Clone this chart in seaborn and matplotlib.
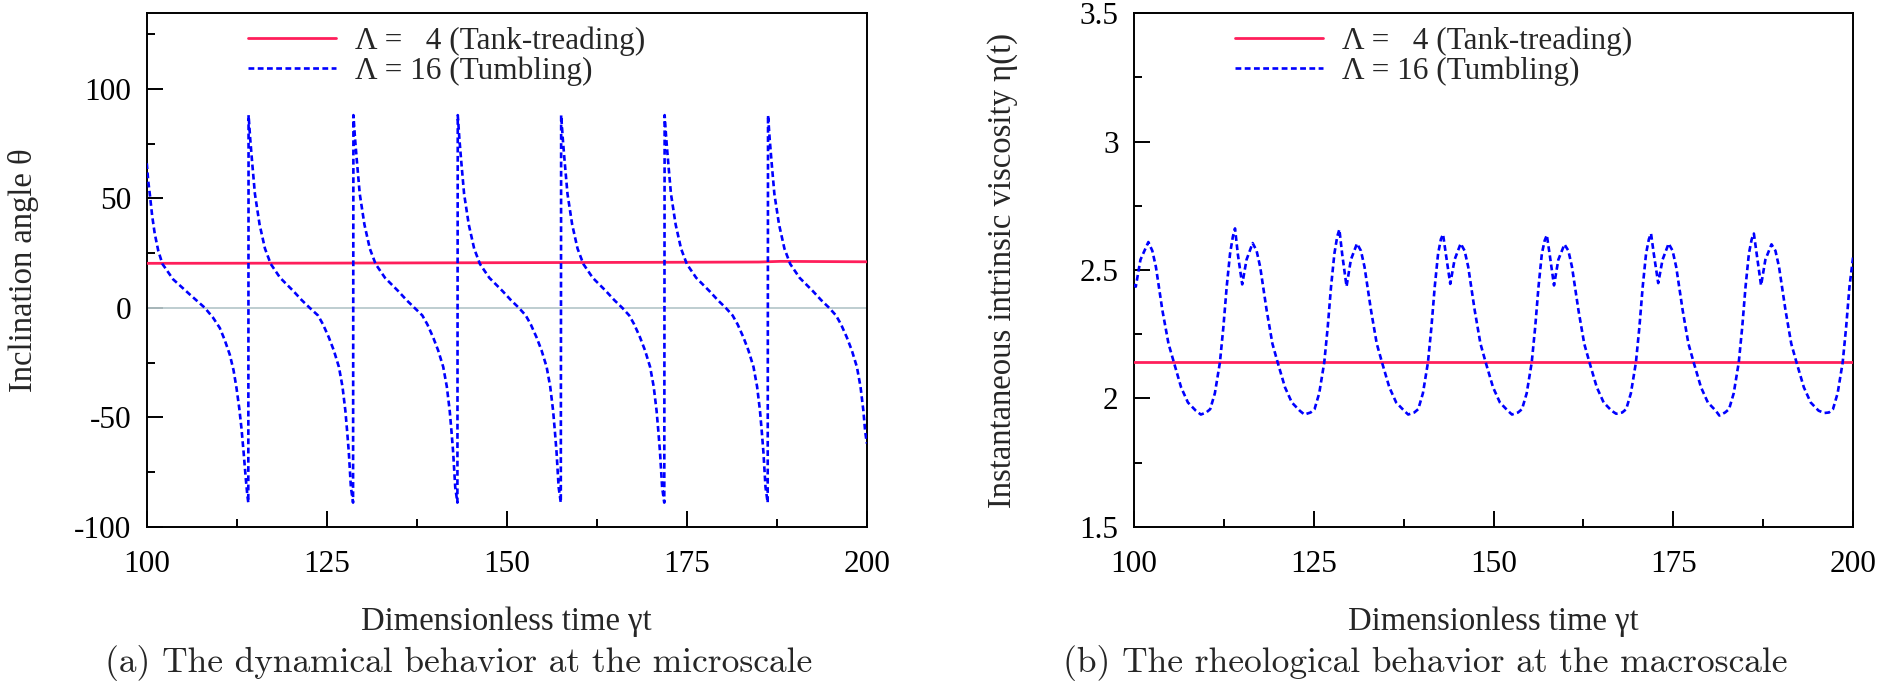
import matplotlib
matplotlib.use('Agg')
import matplotlib.pyplot as plt
import seaborn as sns
import pandas as pd
from matplotlib.ticker import MultipleLocator

# ---------------- data ----------------
legend_labels = ["\u039b = \u20074 (Tank-treading)", "\u039b = 16 (Tumbling)"]

# (a) inclination angle, tank-treading (Lambda = 4)
tt_time = [100, 125, 150, 175, 185, 188, 200]
tt_theta = [20.3, 20.4, 20.6, 20.8, 20.9, 21.2, 21.0]

# (a) inclination angle, tumbling (Lambda = 16)
tu_time = [
    100.0, 100.2, 100.42, 100.75, 101.1, 101.6, 102.18, 103.66, 105.97, 108.06, 109.2, 110.14,
    110.8, 111.53, 112.05, 112.46, 112.85, 113.15, 113.45, 113.75, 113.95, 114.1,
    114.14, 114.37, 114.62, 115.02, 115.67, 116.42, 117.22, 118.52, 120.37, 121.52, 122.62,
    123.78, 124.48, 125.28, 125.98, 126.68, 127.18, 127.58, 127.83, 128.06, 128.2, 128.35, 128.65,
    128.7, 128.93, 129.18, 129.58, 130.23, 130.98, 131.78, 133.08, 134.93, 136.08, 137.18,
    138.27, 138.97, 139.77, 140.47, 141.17, 141.67, 142.07, 142.32, 142.55, 142.69, 142.84, 143.14,
    143.19, 143.42, 143.67, 144.07, 144.72, 145.47, 146.27, 147.57, 149.42, 150.57, 151.67,
    152.63, 153.33, 154.13, 154.83, 155.53, 156.03, 156.43, 156.68, 156.91, 157.05, 157.2, 157.5,
    157.55, 157.78, 158.03, 158.43, 159.08, 159.83, 160.63, 161.93, 163.78, 164.93, 166.03,
    167.0, 167.7, 168.5, 169.2, 169.9, 170.4, 170.8, 171.05, 171.28, 171.42, 171.57, 171.87,
    171.92, 172.15, 172.4, 172.8, 173.45, 174.2, 175.0, 176.3, 178.15, 179.3, 180.4,
    181.36, 182.06, 182.86, 183.56, 184.26, 184.76, 185.16, 185.41, 185.64, 185.78, 185.93, 186.23,
    186.28, 186.51, 186.76, 187.16, 187.81, 188.56, 189.36, 190.66, 192.51, 193.66, 194.76,
    195.72, 196.42, 197.22, 197.92, 198.62, 199.12, 199.52, 199.77, 200.0,
]
tu_theta = [
    66, 58, 52, 42, 34, 26, 20, 13, 6.1, 0, -4.5, -9.2,
    -14.5, -21.4, -28.5, -36.6, -46, -55, -66, -78, -85, -89,
    88, 77, 67, 52, 38, 27, 20, 13.7, 7.6, 3.5, 0,
    -3.5, -7.6, -13.5, -19.5, -27, -36, -47, -56.5, -66, -74, -82, -89,
    88, 77, 67, 52, 38, 27, 20, 13.7, 7.6, 3.5, 0,
    -3.5, -7.6, -13.5, -19.5, -27, -36, -47, -56.5, -66, -74, -82, -89,
    88, 77, 67, 52, 38, 27, 20, 13.7, 7.6, 3.5, 0,
    -3.5, -7.6, -13.5, -19.5, -27, -36, -47, -56.5, -66, -74, -82, -89,
    88, 77, 67, 52, 38, 27, 20, 13.7, 7.6, 3.5, 0,
    -3.5, -7.6, -13.5, -19.5, -27, -36, -47, -56.5, -66, -74, -82, -89,
    88, 77, 67, 52, 38, 27, 20, 13.7, 7.6, 3.5, 0,
    -3.5, -7.6, -13.5, -19.5, -27, -36, -47, -56.5, -66, -74, -82, -89,
    88, 77, 67, 52, 38, 27, 20, 13.7, 7.6, 3.5, 0,
    -3.5, -7.6, -13.5, -19.5, -27, -36, -47, -56.5, -62,
]

# (b) intrinsic viscosity, tank-treading
tt_visc_time = [100, 150, 200]
tt_visc = [2.142, 2.142, 2.142]

# (b) intrinsic viscosity, tumbling
tu_visc_time = [
    100.0, 100.25, 100.9, 102.0, 102.55, 103.05, 103.95, 104.8, 105.55, 106.55, 107.5, 108.6, 109.3,
    110.05, 110.6, 111.25, 111.95, 112.43, 112.89, 113.36, 113.75, 114.05, 114.45, 115.05, 115.65,
    116.5, 117.05, 117.55, 118.45, 119.25, 119.98, 121.0, 121.95, 123.05, 123.7,
    124.56, 125.11, 125.76, 126.46, 126.94, 127.4, 127.87, 128.26, 128.56, 128.96, 129.56, 130.16,
    131.01, 131.56, 132.06, 132.96, 133.76, 134.49, 135.51, 136.46, 137.56, 138.13,
    138.98, 139.53, 140.18, 140.88, 141.36, 141.82, 142.29, 142.68, 142.98, 143.38, 143.98, 144.58,
    145.43, 145.98, 146.48, 147.38, 148.18, 148.91, 149.93, 150.88, 151.98, 152.56,
    153.41, 153.96, 154.61, 155.31, 155.79, 156.25, 156.72, 157.11, 157.41, 157.81, 158.41, 159.01,
    159.86, 160.41, 160.91, 161.81, 162.61, 163.34, 164.36, 165.31, 166.41, 167.05,
    167.9, 168.45, 169.1, 169.8, 170.28, 170.74, 171.21, 171.6, 171.9, 172.3, 172.9, 173.5,
    174.35, 174.9, 175.4, 176.3, 177.1, 177.83, 178.85, 179.8, 180.9, 181.4,
    182.2, 182.75, 183.4, 184.1, 184.58, 185.04, 185.51, 185.9, 186.2, 186.6, 187.2, 187.8,
    188.65, 189.2, 189.7, 190.6, 191.4, 192.13, 193.15, 194.1, 195.2, 196.0,
    196.65, 197.2, 197.85, 198.55, 199.03, 199.49, 200.0,
]
tu_visc = [
    2.445, 2.435, 2.54, 2.609, 2.575, 2.512, 2.343, 2.213, 2.14, 2.043, 1.984, 1.952, 1.937,
    1.945, 1.958, 2.02, 2.14, 2.277, 2.434, 2.564, 2.63, 2.662, 2.56, 2.444, 2.54,
    2.605, 2.575, 2.512, 2.343, 2.213, 2.14, 2.043, 1.984, 1.952, 1.937,
    1.945, 1.958, 2.02, 2.14, 2.277, 2.434, 2.564, 2.63, 2.658, 2.56, 2.436, 2.54,
    2.603, 2.575, 2.512, 2.343, 2.213, 2.14, 2.043, 1.984, 1.952, 1.937,
    1.945, 1.958, 2.02, 2.14, 2.277, 2.434, 2.564, 2.62, 2.639, 2.56, 2.446, 2.54,
    2.603, 2.575, 2.512, 2.343, 2.213, 2.14, 2.043, 1.984, 1.952, 1.937,
    1.945, 1.958, 2.02, 2.14, 2.277, 2.434, 2.564, 2.615, 2.636, 2.56, 2.44, 2.54,
    2.6, 2.575, 2.512, 2.343, 2.213, 2.14, 2.043, 1.984, 1.952, 1.94,
    1.945, 1.958, 2.02, 2.14, 2.277, 2.434, 2.564, 2.62, 2.642, 2.56, 2.449, 2.54,
    2.603, 2.575, 2.512, 2.343, 2.213, 2.14, 2.043, 1.984, 1.952, 1.933,
    1.945, 1.958, 2.02, 2.14, 2.277, 2.434, 2.564, 2.62, 2.642, 2.56, 2.44, 2.54,
    2.6, 2.575, 2.512, 2.343, 2.213, 2.14, 2.043, 1.984, 1.952, 1.943,
    1.945, 1.958, 2.02, 2.14, 2.277, 2.434, 2.55,
]

x_label = "Dimensionless time \u03b3t"
y_label_a = "Inclination angle \u03b8"
y_label_b = "Instantaneous intrinsic viscosity \u03b7(t)"
caption_a = "(a) The dynamical behavior at the microscale"
caption_b = "(b) The rheological behavior at the macroscale"

# ---------------- style ----------------
sns.set_theme(style="ticks")
plt.rcParams['font.family'] = ['Liberation Serif', 'DejaVu Serif']
plt.rcParams['axes.unicode_minus'] = False
plt.rcParams['axes.edgecolor'] = 'black'
plt.rcParams['axes.linewidth'] = 1.4

RED = '#ff1f5b'
BLUE = '#0000ff'
DASH = (0, (2.2, 1.3))
FS_TICK = 22.5
FS_LAB = 23.5
FS_LEG = 22.5
FS_CAP = 25.5

fig = plt.figure(figsize=(18.84, 6.86), dpi=100)
ax1 = fig.add_axes([0.0779, 0.2322, 0.3822, 0.7484])
ax2 = fig.add_axes([0.6019, 0.2322, 0.3817, 0.7484])

df_tt = pd.DataFrame({'t': tt_time, 'v': tt_theta})
df_tu = pd.DataFrame({'t': tu_time, 'v': tu_theta})
df_ttv = pd.DataFrame({'t': tt_visc_time, 'v': tt_visc})
df_tuv = pd.DataFrame({'t': tu_visc_time, 'v': tu_visc})

ax1.axhline(0, color='#b9c9cd', lw=1.3, zorder=1)
sns.lineplot(data=df_tt, x='t', y='v', ax=ax1, color=RED, lw=2.0, sort=False,
             estimator=None, label=legend_labels[0], zorder=3)
sns.lineplot(data=df_tu, x='t', y='v', ax=ax1, color=BLUE, lw=1.9, linestyle=DASH,
             sort=False, estimator=None, label=legend_labels[1], zorder=4)

sns.lineplot(data=df_ttv, x='t', y='v', ax=ax2, color=RED, lw=2.0, sort=False,
             estimator=None, label=legend_labels[0], zorder=3)
sns.lineplot(data=df_tuv, x='t', y='v', ax=ax2, color=BLUE, lw=1.9, linestyle=DASH,
             sort=False, estimator=None, label=legend_labels[1], zorder=4)

ax1.set_xlim(100, 200)
ax1.set_ylim(-100, 134.5)
ax1.yaxis.set_major_locator(MultipleLocator(50))
ax1.yaxis.set_minor_locator(MultipleLocator(25))
ax2.set_xlim(100, 200)
ax2.set_ylim(1.5, 3.5)
ax2.yaxis.set_major_locator(MultipleLocator(0.5))
ax2.yaxis.set_minor_locator(MultipleLocator(0.25))
ax2.set_yticks([1.5, 2, 2.5, 3, 3.5])
ax2.set_yticklabels(['1.5', '2', '2.5', '3', '3.5'])

for ax, ylab, ylx in ((ax1, y_label_a, -0.150), (ax2, y_label_b, -0.161)):
    ax.xaxis.set_major_locator(MultipleLocator(25))
    ax.xaxis.set_minor_locator(MultipleLocator(12.5))
    ax.tick_params(which='both', direction='in', top=False, right=False,
                   width=1.4, colors='black', labelsize=FS_TICK)
    ax.tick_params(which='major', length=11.5)
    ax.tick_params(which='minor', length=5.8)
    ax.tick_params(axis='x', pad=17)
    ax.tick_params(axis='y', pad=11)
    ax.grid(False)
    for s in ax.spines.values():
        s.set_visible(True)
        s.set_linewidth(1.4)
        s.set_color('black')
    ax.set_xlabel(x_label, fontsize=FS_LAB)
    ax.xaxis.set_label_coords(0.5, -0.155)
    ax.set_ylabel(ylab, fontsize=FS_LAB)
    ax.yaxis.set_label_coords(ylx, 0.5)
    h, l = ax.get_legend_handles_labels()
    ax.legend(h, l, loc='upper left', bbox_to_anchor=(0.14, 0.975), frameon=False,
              fontsize=FS_LEG, handlelength=2.82, handletextpad=0.61, borderpad=0,
              borderaxespad=0, labelspacing=0.02)

fig.text(459 / 1884, 14.3 / 686, caption_a, family='cmr10', fontsize=FS_CAP,
         ha='center', va='baseline')
fig.text(1425 / 1884, 14.3 / 686, caption_b, family='cmr10', fontsize=FS_CAP,
         ha='center', va='baseline')

fig.savefig('out.png', dpi=100)
